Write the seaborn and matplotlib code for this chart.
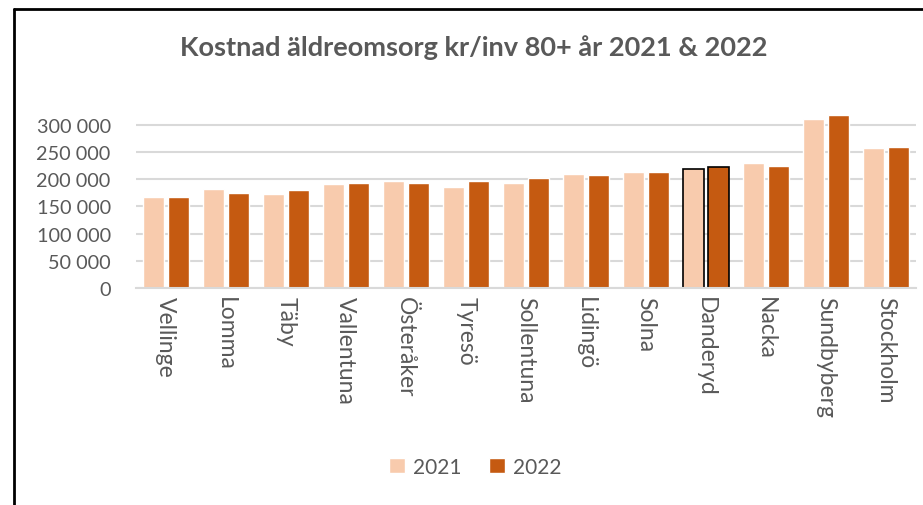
import pandas as pd
import matplotlib.pyplot as plt
import seaborn as sns
from matplotlib.lines import Line2D
from matplotlib.ticker import FuncFormatter

kommuner = ["Vellinge", "Lomma", "Täby", "Vallentuna", "Österåker", "Tyresö",
            "Sollentuna", "Lidingö", "Solna", "Danderyd", "Nacka", "Sundbyberg",
            "Stockholm"]
kostnad_2021 = [167500, 182300, 173100, 191500, 197100, 186000,
                193400, 210000, 213700, 219200, 230300, 311600, 258000]
kostnad_2022 = [167500, 174900, 180400, 193400, 193400, 197100,
                202600, 208200, 213700, 222400, 224800, 319000, 259900]
years = ["2021", "2022"]
colors = ["#F8CBAD", "#C55A11"]
text_color = "#595959"

df = pd.DataFrame({
    "kommun": kommuner * 2,
    "kostnad": kostnad_2021 + kostnad_2022,
    "year": [years[0]] * len(kommuner) + [years[1]] * len(kommuner),
})

sns.set_style("white")
plt.rcParams["font.family"] = ["Lato", "DejaVu Sans"]

fig = plt.figure(figsize=(9.23, 5.06), dpi=100)
ax = fig.add_axes([0.147, 0.4294, 0.845, 0.3536])

sns.barplot(data=df, x="kommun", y="kostnad", hue="year", palette=colors,
            width=0.833, gap=0.16, saturation=1, ax=ax, legend=True)

# Danderyd has outlined bars
idx = kommuner.index("Danderyd")
for cont in ax.containers:
    cont[idx].set_edgecolor("black")
    cont[idx].set_linewidth(1.2)

ax.set_ylim(0, 330000)
ax.set_xlim(-0.5, len(kommuner) - 0.5)
ax.set_yticks(range(0, 300001, 50000))
ax.yaxis.set_major_formatter(FuncFormatter(lambda v, p: f"{int(v):,}".replace(",", " ")))
ax.grid(axis="y", color="#D9D9D9", linewidth=1.5)
ax.set_axisbelow(True)
for s in ["top", "right", "left"]:
    ax.spines[s].set_visible(False)
ax.spines["bottom"].set_color("#D9D9D9")
ax.spines["bottom"].set_linewidth(1.5)
ax.set_xlabel("")
ax.set_ylabel("")
ax.tick_params(axis="y", labelsize=14.3, colors=text_color, length=0, pad=18)
ax.tick_params(axis="x", labelsize=16.5, colors=text_color, length=0, pad=6,
               labelrotation=-90)

handles, labels = ax.get_legend_handles_labels()
ax.legend(handles, labels, ncol=2, frameon=False, loc="center",
          bbox_to_anchor=(0.515, 0.075), bbox_transform=fig.transFigure,
          fontsize=15, labelcolor=text_color, handlelength=0.75,
          handleheight=0.75, handletextpad=0.4, columnspacing=1.3)

fig.text(0.513, 0.905, "Kostnad äldreomsorg kr/inv 80+ år 2021 & 2022",
         ha="center", va="center", fontsize=19.5, fontweight="bold",
         color=text_color)

# outer chart border (left and top edges visible)
fig.add_artist(Line2D([13.5 / 923, 13.5 / 923], [0, 1 - 9.5 / 506],
                      transform=fig.transFigure, color="black", linewidth=2))
fig.add_artist(Line2D([13.5 / 923, 1], [1 - 9.5 / 506, 1 - 9.5 / 506],
                      transform=fig.transFigure, color="black", linewidth=2))

fig.savefig("out.png", dpi=100)
